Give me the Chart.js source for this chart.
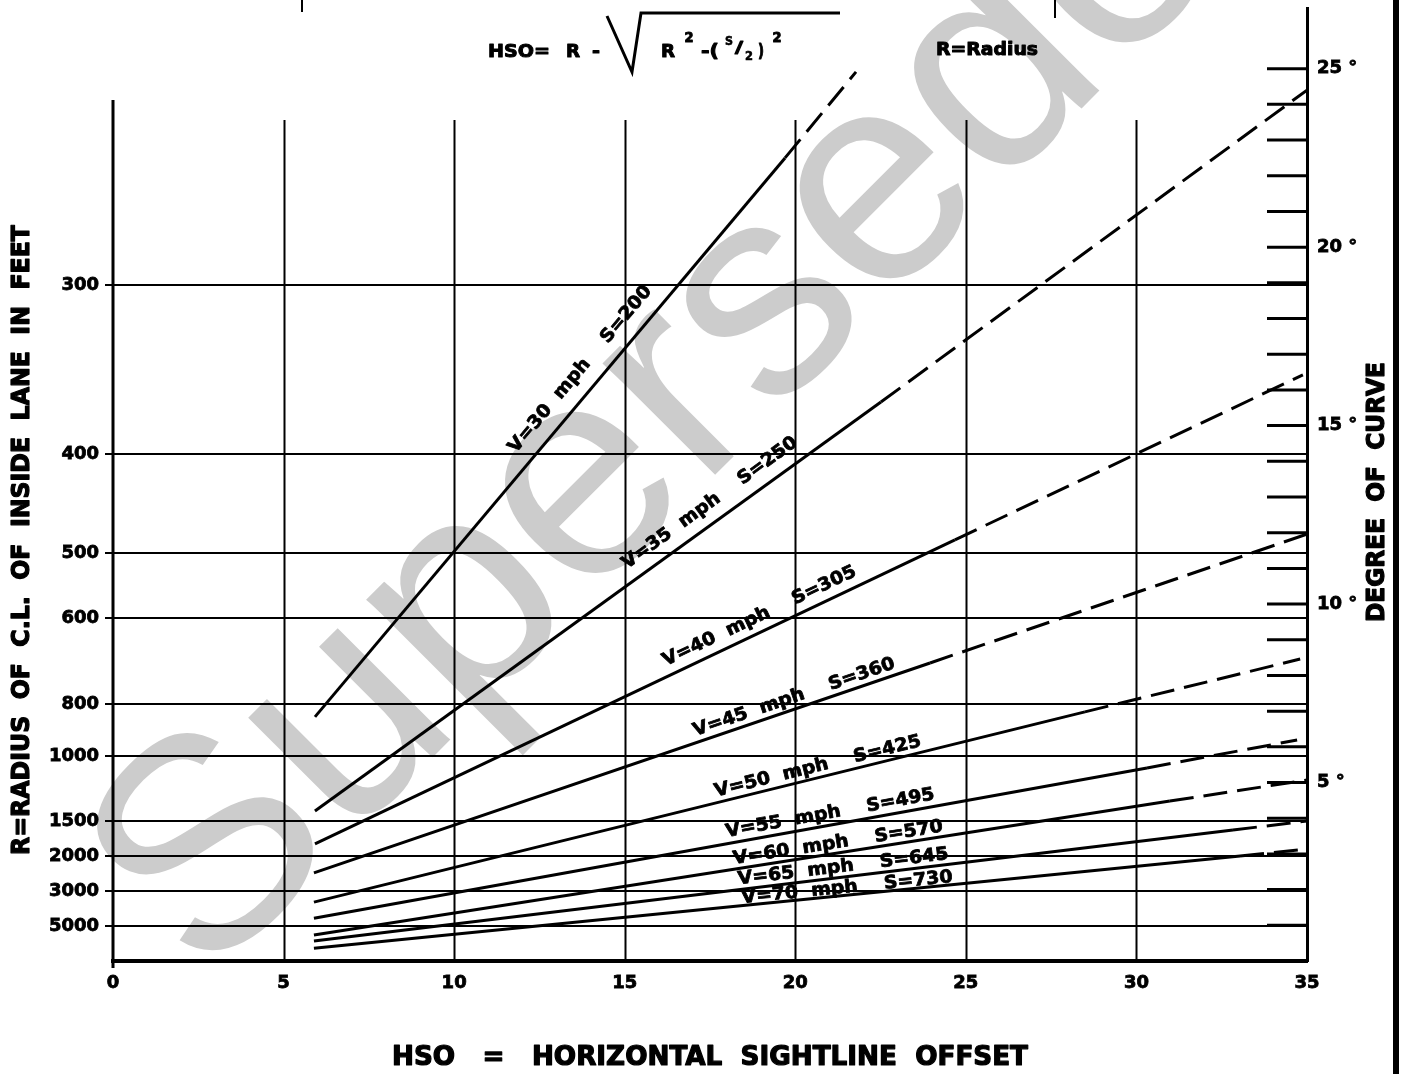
<!DOCTYPE html>
<html><head><meta charset="utf-8">
<script src="https://cdn.jsdelivr.net/npm/chart.js@4.4.1/dist/chart.umd.min.js"></script>
<style>html,body{margin:0;padding:0;background:#fff;overflow:hidden}#wrap{width:1403px;height:1074px;position:relative}canvas{display:block}</style>
</head><body><div id="wrap"><canvas id="c" width="1403" height="1074" style="width:1403px;height:1074px"></canvas></div>
<script>
// ---------------- data ----------------
const hsoTicks = [0, 5, 10, 15, 20, 25, 30, 35];
const hsoGridLines = [5, 10, 15, 20, 25, 30];
const radiusLabels = ['300', '400', '500', '600', '800', '1000', '1500', '2000', '3000', '5000'];
const radiusDegrees = [18.94, 14.20, 11.43, 9.61, 7.20, 5.74, 3.92, 2.94, 1.96, 0.98];
const degreeMinorTicks = [1,2,3,4,5,6,7,8,9,10,11,12,13,14,15,16,17,18,19,20,21,22,23,24,25];
const degreeLabelTicks = [5, 10, 15, 20, 25];
const lineLabels = ['V=30  mph    S=200', 'V=35  mph    S=250', 'V=40  mph    S=305',
  'V=45  mph    S=360', 'V=50  mph    S=425', 'V=55  mph    S=495',
  'V=60  mph    S=570', 'V=65  mph    S=645', 'V=70  mph    S=730'];

// each series: [start, end of solid part, end of dashed part]
const v30Hso = [5.92, 19.70, 21.78];  const v30Deg = [6.84, 22.50, 24.91];
const v35Hso = [5.92, 22.51, 35.00];  const v35Deg = [4.20, 15.66, 24.40];
const v40Hso = [5.92, 24.68, 34.88];  const v40Deg = [3.28, 11.80, 16.42];
const v45Hso = [5.89, 23.95, 35.00];  const v45Deg = [2.47, 8.35, 11.96];
const v50Hso = [5.89, 28.49, 34.80];  const v50Deg = [1.65, 6.98, 8.46];
const v55Hso = [5.89, 30.31, 34.71];  const v55Deg = [1.20, 5.41, 6.19];
const v60Hso = [5.89, 30.98, 35.00];  const v60Deg = [0.73, 4.48, 5.07];
const v65Hso = [5.89, 32.83, 35.00];  const v65Deg = [0.56, 3.67, 3.92];
const v70Hso = [5.89, 33.04, 35.00];  const v70Deg = [0.36, 2.94, 3.14];

const seriesHso = [v30Hso, v35Hso, v40Hso, v45Hso, v50Hso, v55Hso, v60Hso, v65Hso, v70Hso];
const seriesDeg = [v30Deg, v35Deg, v40Deg, v45Deg, v50Deg, v55Deg, v60Deg, v65Deg, v70Deg];

// ---------------- layout / style (not data) ----------------
const labelAlongHso = [14.15, 17.79, 19.14, 20.07, 20.74, 21.08, 21.30, 21.44, 21.54];
const labelOffsetPx = [20, 17, 15, 11, 11, 11, 10, 10, 7];
const FONT = '"DejaVu Sans", "Liberation Sans", sans-serif';
const Y_MAX = 26.7;

function drawFit(ctx, text, cx, cy, angle, fontPx, targetW, stroke) {
  ctx.save();
  ctx.translate(cx, cy);
  ctx.rotate(angle);
  ctx.font = 'bold ' + fontPx + 'px ' + FONT;
  const w = ctx.measureText(text).width;
  if (targetW) ctx.scale(targetW / w, 1);
  ctx.textAlign = 'center';
  ctx.textBaseline = 'middle';
  ctx.fillStyle = '#000';
  ctx.fillText(text, 0, 0);
  const sw = stroke === undefined ? 1 : stroke;
  if (sw > 0) {
    ctx.strokeStyle = '#000';
    ctx.lineWidth = sw;
    ctx.lineJoin = 'round';
    ctx.strokeText(text, 0, 0);
  }
  ctx.restore();
}

const backgroundPlugin = {
  id: 'bgWatermark',
  beforeDraw(chart) {
    const ctx = chart.ctx;
    ctx.save();
    ctx.fillStyle = '#fff';
    ctx.fillRect(0, 0, chart.width, chart.height);
    ctx.translate(205, 985);
    ctx.rotate(-45 * Math.PI / 180);
    ctx.font = '300px "Liberation Sans", Arial, sans-serif';
    ctx.fillStyle = 'rgb(204,204,204)';
    ctx.textBaseline = 'alphabetic';
    ctx.fillText('Superseded', 0, 0);
    ctx.restore();
  }
};

const gridPlugin = {
  id: 'customGrid',
  beforeDatasetsDraw(chart) {
    const ctx = chart.ctx, xs = chart.scales.x, ys = chart.scales.y;
    const bottom = chart.chartArea.bottom;
    ctx.save();
    ctx.strokeStyle = '#000';
    ctx.lineWidth = 2;
    const gTop = ys.getPixelForValue(23.56);
    hsoGridLines.forEach(v => {
      const x = Math.round(xs.getPixelForValue(v)) + 0.5;
      ctx.beginPath(); ctx.moveTo(x, gTop); ctx.lineTo(x, bottom); ctx.stroke();
    });
    ctx.lineWidth = 3;
    const lx = xs.getPixelForValue(0);
    ctx.beginPath(); ctx.moveTo(lx, ys.getPixelForValue(24.12)); ctx.lineTo(lx, bottom + 7); ctx.stroke();
    const rx = xs.getPixelForValue(35);
    degreeMinorTicks.forEach(d => {
      const y = ys.getPixelForValue(d);
      ctx.beginPath(); ctx.moveTo(rx - 40, y); ctx.lineTo(rx, y); ctx.stroke();
    });
    ctx.restore();
  }
};

const decorPlugin = {
  id: 'decor',
  afterDraw(chart) {
    const ctx = chart.ctx, xs = chart.scales.x, ys = chart.scales.y;
    seriesHso.forEach((hs, i) => {
      const ds = seriesDeg[i];
      const x0 = xs.getPixelForValue(hs[0]), y0 = ys.getPixelForValue(ds[0]);
      const x2 = xs.getPixelForValue(hs[2]), y2 = ys.getPixelForValue(ds[2]);
      const a = Math.atan2(y2 - y0, x2 - x0);
      const fx = xs.getPixelForValue(labelAlongHso[i]);
      const t = (fx - x0) / (x2 - x0);
      const fy = y0 + t * (y2 - y0);
      const d = labelOffsetPx[i];
      const cx = fx + d * Math.sin(a), cy = fy - d * Math.cos(a);
      drawFit(ctx, lineLabels[i], cx, cy, a, 18, 212, 0.8);
    });
    drawFit(ctx, 'HSO   =   HORIZONTAL  SIGHTLINE  OFFSET', 710, 1058, 0, 26, 636, 1.2);
    drawFit(ctx, 'R=RADIUS  OF  C.L.  OF  INSIDE  LANE  IN  FEET', 22, 540, -Math.PI / 2, 25, 630, 1.2);
    drawFit(ctx, 'DEGREE  OF  CURVE', 1378, 492, -Math.PI / 2, 24, 260, 1.2);
    drawFit(ctx, 'HSO=', 519, 52, 0, 18, 62);
    drawFit(ctx, 'R', 573, 52, 0, 18, 14);
    drawFit(ctx, '-', 596, 52, 0, 18, 8);
    ctx.save();
    ctx.strokeStyle = '#000'; ctx.lineWidth = 3; ctx.lineJoin = 'miter';
    ctx.beginPath(); ctx.moveTo(607, 16); ctx.lineTo(632, 72); ctx.lineTo(641, 13); ctx.lineTo(840, 13); ctx.stroke();
    ctx.restore();
    drawFit(ctx, 'R', 668, 52, 0, 18, 14);
    drawFit(ctx, '2', 689, 38, 0, 14, 9);
    drawFit(ctx, '-(', 710, 52, 0, 18, 18);
    drawFit(ctx, 'S', 729, 42, 0, 12, 8, 0.6);
    drawFit(ctx, '/', 739, 49, 0, 16, 8);
    drawFit(ctx, '2', 749, 57, 0, 12, 8, 0.6);
    drawFit(ctx, ')', 761, 52, 0, 18, 6);
    drawFit(ctx, '2', 777, 38, 0, 14, 9);
    drawFit(ctx, 'R=Radius', 987, 50, 0, 18, 102);
    ctx.save();
    ctx.strokeStyle = '#000'; ctx.lineWidth = 2;
    ctx.beginPath(); ctx.moveTo(302, 0); ctx.lineTo(302, 12); ctx.moveTo(1055, 0); ctx.lineTo(1055, 18); ctx.stroke();
    ctx.fillStyle = '#000';
    ctx.fillRect(1393, 0, 6, chart.height);
    ctx.restore();
  }
};

const datasets = seriesHso.map((hs, i) => ({
  label: lineLabels[i],
  data: hs.map((x, j) => ({ x: x, y: seriesDeg[i][j] })),
  borderColor: '#000',
  borderWidth: 3,
  pointRadius: 0,
  fill: false,
  tension: 0,
  xAxisID: 'x',
  yAxisID: 'y',
  segment: { borderDash: c => (c.p0DataIndex >= 1 ? [24, 10] : undefined) }
}));
datasets.push({ label: 'deg', data: [], yAxisID: 'y2', xAxisID: 'x', pointRadius: 0, borderWidth: 0 });

const tickFont = { family: FONT, size: 18, weight: 'bold' };
function noPad(s) { s.paddingTop = 0; s.paddingBottom = 0; s.paddingLeft = 0; s.paddingRight = 0; }

new Chart(document.getElementById('c'), {
  type: 'line',
  data: { datasets },
  options: {
    responsive: false,
    devicePixelRatio: 1,
    animation: false,
    layout: { padding: { top: 8, left: 0, right: 0, bottom: 0 } },
    plugins: { legend: { display: false }, tooltip: { enabled: false } },
    scales: {
      x: {
        type: 'linear', position: 'bottom', min: 0, max: 35,
        afterBuildTicks: s => { s.ticks = hsoTicks.map(v => ({ value: v })); },
        afterFit: s => { s.height = 113; noPad(s); },
        ticks: { color: '#000', font: tickFont, padding: 12, autoSkip: false, maxRotation: 0,
          textStrokeColor: '#000', textStrokeWidth: 0.8 },
        grid: { display: false, drawTicks: false },
        border: { display: true, color: '#000', width: 4 }
      },
      y: {
        type: 'linear', position: 'left', min: 0, max: Y_MAX,
        afterBuildTicks: s => { s.ticks = radiusDegrees.map(v => ({ value: v })); },
        afterFit: s => { s.width = 113; noPad(s); },
        ticks: { color: '#000', font: tickFont, padding: 6, autoSkip: false,
          textStrokeColor: '#000', textStrokeWidth: 0.8,
          callback: (v, i) => radiusLabels[i] },
        grid: { color: '#000', lineWidth: 2, tickLength: 8, drawTicks: true },
        border: { display: false }
      },
      y2: {
        type: 'linear', position: 'right', min: 0, max: Y_MAX,
        afterBuildTicks: s => { s.ticks = degreeLabelTicks.map(v => ({ value: v })); },
        afterFit: s => { s.width = 96; noPad(s); },
        ticks: { color: '#000', font: tickFont, padding: 10, autoSkip: false,
          textStrokeColor: '#000', textStrokeWidth: 0.8,
          callback: v => v + ' °' },
        grid: { display: false, drawTicks: false },
        border: { display: true, color: '#000', width: 3 }
      }
    }
  },
  plugins: [backgroundPlugin, gridPlugin, decorPlugin]
});
</script></body></html>
